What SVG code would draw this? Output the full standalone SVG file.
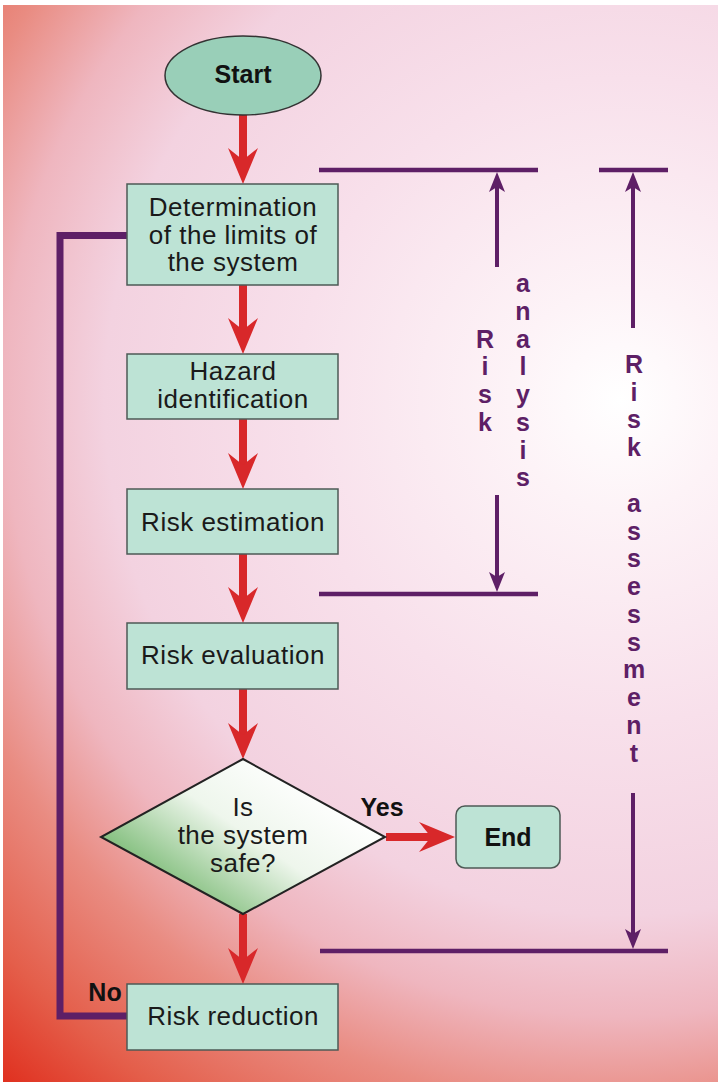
<svg xmlns="http://www.w3.org/2000/svg" width="718" height="1082" viewBox="0 0 718 1082">
<defs>
<radialGradient id="bg" gradientUnits="userSpaceOnUse" cx="620" cy="400" r="920" fx="620" fy="400">
<stop offset="0" stop-color="#ffffff"/>
<stop offset="0.12" stop-color="#fdf3f7"/>
<stop offset="0.35" stop-color="#f8e0eb"/>
<stop offset="0.56" stop-color="#f3d2e0"/>
<stop offset="0.67" stop-color="#efb6bf"/>
<stop offset="0.77" stop-color="#e98c82"/>
<stop offset="0.9" stop-color="#e45e4a"/>
<stop offset="1" stop-color="#e0301f"/>
</radialGradient>
<linearGradient id="dia" x1="0.8" y1="0.2" x2="0.1" y2="0.75">
<stop offset="0" stop-color="#ffffff"/>
<stop offset="0.45" stop-color="#eef6ec"/>
<stop offset="1" stop-color="#72b66c"/>
</linearGradient>
<marker id="red" markerUnits="userSpaceOnUse" viewBox="0 0 36 30" refX="20" refY="15" markerWidth="36" markerHeight="30" orient="auto">
<path d="M0,0 L36,15 L0,30 L12,15 Z" fill="#d8282a"/>
</marker>
<marker id="pur" markerUnits="userSpaceOnUse" viewBox="0 0 20 16" refX="12" refY="8" markerWidth="20" markerHeight="16" orient="auto">
<path d="M0,0 L20,8 L0,16 L5,8 Z" fill="#5e1f66"/>
</marker>
<style>
.box{fill:#bde3d5;stroke:#4d5a55;stroke-width:1.5}
.t{font-family:"Liberation Sans",Arial,sans-serif;font-size:26px;letter-spacing:0.5px;fill:#1a1a1a;text-anchor:middle}
.b{font-family:"Liberation Sans",Arial,sans-serif;font-size:25px;font-weight:bold;fill:#111;text-anchor:middle}
.v{font-family:"Liberation Sans",Arial,sans-serif;font-size:25px;font-weight:bold;fill:#5e1f66;text-anchor:middle}
.ra{stroke:#d8282a;stroke-width:8;fill:none;marker-end:url(#red)}
.pa{stroke:#5e1f66;stroke-width:4;fill:none;marker-end:url(#pur)}
.pl{stroke:#5e1f66;stroke-width:4.5;fill:none}
</style>
</defs>
<rect x="3" y="5" width="715" height="1077" fill="url(#bg)"/>
<g id="connectors">
<path d="M127,235.5 H60 V1016 H127" stroke="#5e1f66" stroke-width="7" fill="none"/>
<line class="ra" x1="243" y1="115" x2="243" y2="168"/>
<line class="ra" x1="243" y1="285" x2="243" y2="338"/>
<line class="ra" x1="243" y1="419" x2="243" y2="473"/>
<line class="ra" x1="243" y1="554" x2="243" y2="607"/>
<line class="ra" x1="243" y1="689" x2="243" y2="743"/>
<line class="ra" x1="243" y1="914" x2="243" y2="968"/>
<line class="ra" x1="386" y1="837" x2="439" y2="837"/>
<line class="pl" x1="319" y1="170" x2="538" y2="170"/>
<line class="pl" x1="599" y1="170" x2="668" y2="170"/>
<line class="pl" x1="319" y1="594" x2="538" y2="594"/>
<line class="pl" x1="320" y1="951" x2="668" y2="951"/>
<line class="pa" x1="497" y1="267" x2="497" y2="180"/>
<line class="pa" x1="497" y1="495" x2="497" y2="584"/>
<line class="pa" x1="633" y1="328" x2="633" y2="180"/>
<line class="pa" x1="633" y1="793" x2="633" y2="941"/>
</g>
<g id="start">
<ellipse cx="243" cy="75.5" rx="78" ry="39.5" fill="#99cfb8" stroke="#333" stroke-width="1.5"/>
<text class="b" x="243" y="83" font-size="26">Start</text>
</g>
<g id="limits">
<rect class="box" x="127" y="184" width="211" height="101"/>
<text class="t" x="233" y="216">Determination</text>
<text class="t" x="233" y="244">of the limits of</text>
<text class="t" x="233" y="271">the system</text>
</g>
<g id="hazard">
<rect class="box" x="127" y="354" width="211" height="65"/>
<text class="t" x="233" y="380">Hazard</text>
<text class="t" x="233" y="408">identification</text>
</g>
<g id="estimation">
<rect class="box" x="127" y="489" width="211" height="65"/>
<text class="t" x="233" y="531">Risk estimation</text>
</g>
<g id="evaluation">
<rect class="box" x="127" y="623" width="211" height="66"/>
<text class="t" x="233" y="664">Risk evaluation</text>
</g>
<g id="decision">
<polygon points="243,759 385,837 243,914 101,837" fill="url(#dia)" stroke="#222" stroke-width="2"/>
<text class="t" x="243" y="816">Is</text>
<text class="t" x="243" y="844">the system</text>
<text class="t" x="243" y="872">safe?</text>
</g>
<g id="end">
<rect class="box" x="456" y="806" width="104" height="62" rx="9"/>
<text class="b" x="508" y="846" font-size="26">End</text>
</g>
<g id="reduction">
<rect class="box" x="127" y="984" width="211" height="66"/>
<text class="t" x="233" y="1025">Risk reduction</text>
</g>
<g id="labels">
<text class="b" x="382" y="816">Yes</text>
<text class="b" x="105" y="1001">No</text>
<text class="v"><tspan x="485" y="348">R</tspan><tspan x="485" y="375">i</tspan><tspan x="485" y="403">s</tspan><tspan x="485" y="431">k</tspan></text>
<text class="v"><tspan x="523" y="292">a</tspan><tspan x="523" y="320">n</tspan><tspan x="523" y="348">a</tspan><tspan x="523" y="375">l</tspan><tspan x="523" y="403">y</tspan><tspan x="523" y="431">s</tspan><tspan x="523" y="459">i</tspan><tspan x="523" y="486">s</tspan></text>
<text class="v"><tspan x="634" y="373">R</tspan><tspan x="634" y="401">i</tspan><tspan x="634" y="428">s</tspan><tspan x="634" y="456">k</tspan></text>
<text class="v"><tspan x="634" y="512">a</tspan><tspan x="634" y="540">s</tspan><tspan x="634" y="567">s</tspan><tspan x="634" y="595">e</tspan><tspan x="634" y="623">s</tspan><tspan x="634" y="651">s</tspan><tspan x="634" y="678">m</tspan><tspan x="634" y="706">e</tspan><tspan x="634" y="734">n</tspan><tspan x="634" y="762">t</tspan></text>
</g>
</svg>
